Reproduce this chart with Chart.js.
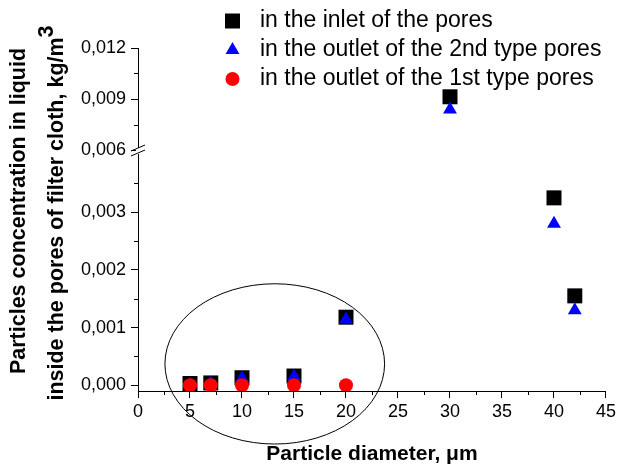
<!DOCTYPE html>
<html>
<head>
<meta charset="utf-8">
<script src="https://cdn.jsdelivr.net/npm/chart.js@4.4.1/dist/chart.umd.min.js"></script>
<style>
  html, body { margin: 0; padding: 0; background: #fff; }
</style>
</head>
<body>
<canvas id="chart" width="619" height="466"></canvas>
<script>
// data
const diameters = [5, 7, 10, 15, 20, 30, 40, 42];
const inletConc = [0.00003, 0.00004, 0.00013, 0.00016, 0.00118, 0.00913, 0.00325, 0.00155];
const outlet2Conc = [0.00001, 0.00003, 0.00012, 0.00015, 0.00114, 0.00838, 0.0028, 0.0013];
const outlet1Diameters = [5, 7, 10, 15, 20];
const outlet1Conc = [0, 0, 0, 0, 0];
const seriesNames = [
  "in the inlet of the pores",
  "in the outlet of the 2nd type pores",
  "in the outlet of the 1st type pores",
];

// axes
const xTickValues = [0, 5, 10, 15, 20, 25, 30, 35, 40, 45];
const xMinorTicks = [2.5, 7.5, 12.5, 17.5, 22.5, 27.5, 32.5, 37.5, 42.5];
const yLowTickValues = [0, 0.001, 0.002, 0.003];
const yLowMinorTicks = [0.0005, 0.0015, 0.0025, 0.0035];
const yHighTickValues = [0.006, 0.009, 0.012];
const yHighMinorTicks = [0.0075, 0.0105];
const xTitle = "Particle diameter, \u03bcm";
const yTitleLines = ["Particles concentration in liquid", "inside the pores of filter cloth, kg/m"];
const yTitleSup = "3";

// broken y axis: lower part ends here, upper part starts at BREAK_HIGH
const BREAK_LOW = 0.00408;
const BREAK_HIGH = 0.006;

// circled region (data units, lower axis)
const highlight = { x: 13.15, y: 0.00037, rx: 10.56, ry: 0.00139 };

const FONT = "'Liberation Sans', Arial, sans-serif";

function splitPoints(xs, ys, upper) {
  const pts = [];
  xs.forEach((x, i) => {
    if ((ys[i] > BREAK_LOW) === upper) pts.push({ x: x, y: ys[i] });
  });
  return pts;
}

const seriesDefs = [
  { label: seriesNames[0], xs: diameters, ys: inletConc, style: "rect", radius: 10.6, color: "#000000", order: 3 },
  { label: seriesNames[1], xs: diameters, ys: outlet2Conc, style: "triangle", radius: 8, color: "#0000ff", order: 2 },
  { label: seriesNames[2], xs: outlet1Diameters, ys: outlet1Conc, style: "circle", radius: 7, color: "#ff0000", order: 1 },
];

const datasets = [];
seriesDefs.forEach((s) => {
  [false, true].forEach((upper) => {
    datasets.push({
      label: s.label,
      data: splitPoints(s.xs, s.ys, upper),
      yAxisID: upper ? "yHigh" : "yLow",
      pointStyle: s.style,
      pointRadius: s.radius,
      pointHoverRadius: s.radius,
      backgroundColor: s.color,
      borderColor: s.color,
      borderWidth: 0,
      pointBorderWidth: 0,
      order: s.order,
    });
  });
});

function fmt(v) {
  return v.toFixed(3).replace(".", ",");
}

const tickFont = { family: FONT, size: 18 };

function yScale(min, max, weight, ticks) {
  return {
    type: "linear",
    position: "left",
    stack: "conc",
    stackWeight: weight,
    min: min,
    max: max,
    afterBuildTicks: (scale) => {
      scale.ticks = ticks.map((v) => ({ value: v }));
    },
    afterFit: (scale) => {
      scale.width = 138;
    },
    ticks: { font: tickFont, color: "#000", padding: 5, callback: (v) => fmt(v) },
    grid: { drawOnChartArea: false, tickLength: 7, color: "#000", lineWidth: 1 },
    border: { display: true, color: "#000", width: 1 },
  };
}

function crisp(v) {
  return Math.round(v) + 0.5;
}

const decorations = {
  id: "decorations",
  afterDatasetsDraw(chart) {
    const ctx = chart.ctx;
    const sx = chart.scales.x;
    const lo = chart.scales.yLow;
    const hi = chart.scales.yHigh;
    const area = chart.chartArea;
    ctx.save();
    ctx.strokeStyle = "#000";
    ctx.lineWidth = 1;

    // minor ticks
    ctx.beginPath();
    xMinorTicks.forEach((v) => {
      const px = crisp(sx.getPixelForValue(v));
      ctx.moveTo(px, area.bottom);
      ctx.lineTo(px, area.bottom + 4);
    });
    yLowMinorTicks.forEach((v) => {
      const py = crisp(lo.getPixelForValue(v));
      ctx.moveTo(area.left - 4, py);
      ctx.lineTo(area.left, py);
    });
    yHighMinorTicks.forEach((v) => {
      const py = crisp(hi.getPixelForValue(v));
      ctx.moveTo(area.left - 4, py);
      ctx.lineTo(area.left, py);
    });
    ctx.stroke();

    // axis break
    const by = lo.top;
    const ax = area.left;
    ctx.fillStyle = "#fff";
    ctx.fillRect(ax - 2, by - 2, 4, 6);
    ctx.beginPath();
    ctx.moveTo(ax - 7, by + 1);
    ctx.lineTo(ax + 7, by - 5);
    ctx.moveTo(ax - 7, by + 6);
    ctx.lineTo(ax + 7, by);
    ctx.stroke();

    // ellipse round the small particles
    const cx = sx.getPixelForValue(highlight.x);
    const cy = lo.getPixelForValue(highlight.y);
    const rx = sx.getPixelForValue(highlight.x + highlight.rx) - cx;
    const ry = cy - lo.getPixelForValue(highlight.y + highlight.ry);
    ctx.beginPath();
    ctx.ellipse(cx, cy, rx, ry, 0, 0, Math.PI * 2);
    ctx.stroke();

    // legend
    const rows = [21, 50, 79];
    seriesDefs.forEach((s, i) => {
      ctx.fillStyle = s.color;
      Chart.helpers.drawPoint(ctx, { pointStyle: s.style, radius: s.radius, borderWidth: 0, rotation: 0 }, 232.5, rows[i]);
      ctx.fillStyle = "#000";
      ctx.font = "23px " + FONT;
      ctx.textAlign = "left";
      ctx.textBaseline = "alphabetic";
      ctx.fillText(s.label, 260, rows[i] + 5.5);
    });

    // x title
    ctx.fillStyle = "#000";
    ctx.font = "bold 21px " + FONT;
    ctx.textAlign = "center";
    ctx.fillText(xTitle, (area.left + area.right) / 2, 460);

    // y title, two rotated lines
    ctx.save();
    ctx.rotate(-Math.PI / 2);
    ctx.font = "bold 21.5px " + FONT;
    ctx.textAlign = "center";
    ctx.fillText(yTitleLines[0], -211, 25);
    const w2 = ctx.measureText(yTitleLines[1]).width;
    const w3 = ctx.measureText(yTitleSup).width;
    const start2 = -213 - (w2 + w3) / 2;
    ctx.textAlign = "left";
    ctx.fillText(yTitleLines[1], start2, 63);
    ctx.fillText(yTitleSup, start2 + w2, 53);
    ctx.restore();

    ctx.restore();
  },
};

const chart = new Chart(document.getElementById("chart"), {
  type: "scatter",
  data: { datasets: datasets },
  options: {
    responsive: false,
    animation: false,
    devicePixelRatio: 1,
    layout: { padding: { top: 48, right: 11, bottom: 0, left: 0 } },
    plugins: {
      legend: { display: false },
      tooltip: { enabled: false },
    },
    scales: {
      x: {
        type: "linear",
        min: 0,
        max: 45,
        afterBuildTicks: (scale) => {
          scale.ticks = xTickValues.map((v) => ({ value: v }));
        },
        afterFit: (scale) => {
          scale.height = 75;
        },
        ticks: { font: tickFont, color: "#000", padding: 3, maxRotation: 0, autoSkip: false, callback: (v) => String(v) },
        grid: { drawOnChartArea: false, tickLength: 7, color: "#000", lineWidth: 1 },
        border: { display: true, color: "#000", width: 1 },
      },
      // stacked axes are placed bottom-up in the order they are listed
      yLow: yScale(-0.0001, BREAK_LOW, 241, yLowTickValues),
      yHigh: yScale(BREAK_HIGH, 0.012, 102, yHighTickValues),
    },
  },
  plugins: [decorations],
});
</script>
</body>
</html>
